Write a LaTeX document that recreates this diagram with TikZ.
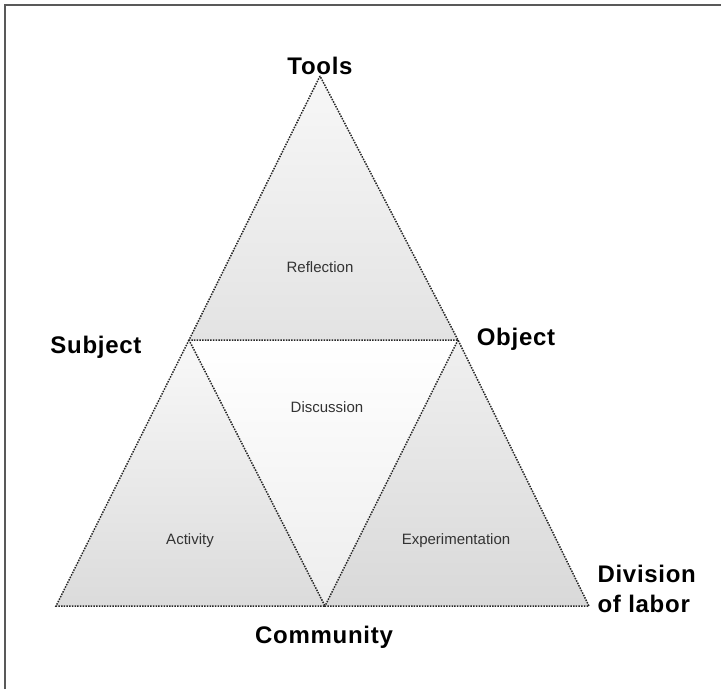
\documentclass[tikz,border=0pt]{standalone}
\usepackage{fontspec}
\setmainfont{Liberation Sans}
\begin{document}
\begin{tikzpicture}[x=1pt,y=-1pt,
  corner/.style={font=\fontsize{24}{30}\selectfont\bfseries\addfontfeatures{LetterSpace=3}},
  phase/.style={font=\fontsize{15}{18}\selectfont, text=black!80},
  rim/.style={draw=black!85, line width=1.5pt, dash pattern=on 1.5pt off 1.2pt}]

\useasboundingbox (0,0) rectangle (721,689);

% The frame
\draw[black!65, line width=2pt] (5,689) -- (5,5) -- (721,5);

% The corners
\coordinate (tools) at (320,76);
\coordinate (subject) at (189,340);
\coordinate (object) at (458,340);
\coordinate (left) at (56,606);
\coordinate (community) at (325,606);
\coordinate (labor) at (589,606);

% The triangles
\shade[top color=white, bottom color=gray!14] (subject) -- (object) -- (community) -- cycle;
\shade[top color=gray!6, bottom color=gray!22] (tools) -- (subject) -- (object) -- cycle;
\shade[top color=gray!5, bottom color=gray!28] (subject) -- (left) -- (community) -- cycle;
\shade[top color=gray!12, bottom color=gray!30] (object) -- (community) -- (labor) -- cycle;

\draw[rim] (tools) -- (subject) -- (object) -- cycle;
\draw[rim] (subject) -- (left) -- (community) -- cycle;
\draw[rim] (object) -- (community) -- (labor) -- cycle;

% The names
\node[corner, anchor=base] (toolsname) at (320,74) {Tools};
\node[corner, anchor=base] (subjectname) at (96,353) {Subject};
\node[corner, anchor=base] (objectname) at (516,345) {Object};
\node[corner, anchor=base] (communityname) at (324,643) {Community};
\node[corner, anchor=base west, align=left] (laborname) at (594,612) {Division\\of labor};

\node[phase, anchor=base] (reflection) at (320,272) {Reflection};
\node[phase, anchor=base] (discussion) at (327,412) {Discussion};
\node[phase, anchor=base] (activity) at (190,544) {Activity};
\node[phase, anchor=base] (experimentation) at (456,544) {Experimentation};

\end{tikzpicture}
\end{document}
